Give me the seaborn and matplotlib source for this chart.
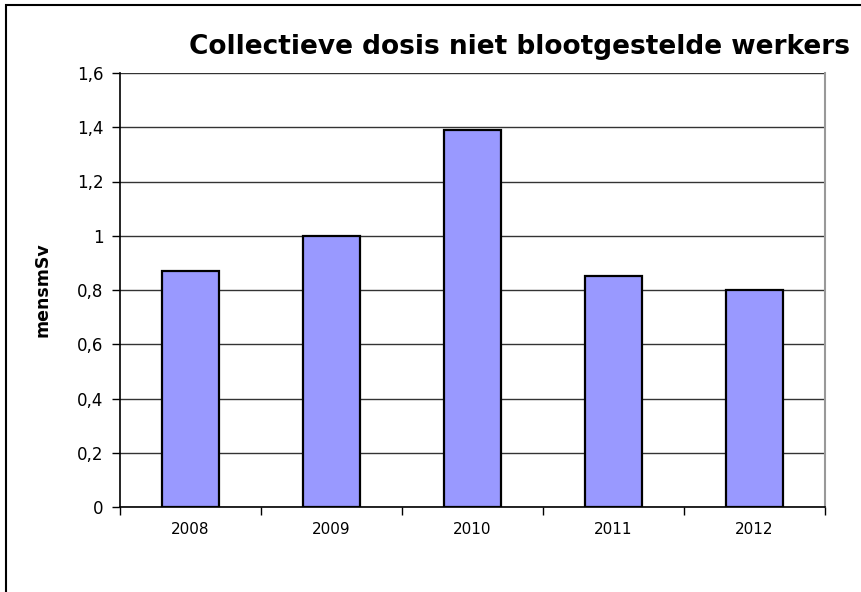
import matplotlib
matplotlib.use("Agg")
import matplotlib.pyplot as plt
import matplotlib.patches as mpatches
import seaborn as sns
import pandas as pd
from matplotlib.ticker import FuncFormatter

years = ["2008", "2009", "2010", "2011", "2012"]
dose = [0.87, 1.0, 1.39, 0.85, 0.80]
yticks = [0, 0.2, 0.4, 0.6, 0.8, 1.0, 1.2, 1.4, 1.6]

df = pd.DataFrame({"jaar": years, "dosis": dose})

sns.set_theme(style="white")
plt.rcParams["font.family"] = ["DejaVu Sans"]
plt.rcParams["text.color"] = "black"
plt.rcParams["axes.labelcolor"] = "black"
plt.rcParams["xtick.color"] = "black"
plt.rcParams["ytick.color"] = "black"

fig = plt.figure(figsize=(8.62, 5.92), dpi=100)
ax = fig.add_axes([120 / 862, 1 - 507 / 592, 705 / 862, (507 - 73) / 592])

ax.set_ylim(0, 1.6)
ax.set_yticks(yticks)
ax.yaxis.grid(True, color="#333333", linewidth=1.0)
ax.set_axisbelow(True)

sns.barplot(data=df, x="jaar", y="dosis", color="#9999FF", saturation=1,
            width=0.4, edgecolor="black", linewidth=1.6, ax=ax)

ax.set_xlim(-0.5, len(years) - 0.5)
ax.yaxis.set_major_formatter(
    FuncFormatter(lambda v, p: ("%g" % round(v, 1)).replace(".", ",")))

# x ticks sit on the category boundaries
ax.set_xticks([i - 0.5 for i in range(len(years) + 1)], minor=True)
ax.tick_params(axis="x", which="major", length=0, pad=11, labelsize=11)
ax.tick_params(axis="x", which="minor", length=6, width=1, color="black",
               direction="out", bottom=True)
ax.tick_params(axis="y", which="major", length=6, width=1, color="black",
               direction="out", left=True, labelsize=12, pad=6)

for side in ["left", "bottom"]:
    ax.spines[side].set_color("black")
    ax.spines[side].set_linewidth(1.2)
ax.spines["top"].set_visible(False)
ax.spines["right"].set_color("#999999")
ax.spines["right"].set_linewidth(1.5)

ax.set_xlabel("")
ax.set_ylabel("mensmSv", fontsize=12.5, fontweight="bold", labelpad=18)

fig.text(850 / 862, 1 - 47 / 592,
         "Collectieve dosis niet blootgestelde werkers",
         ha="right", va="center", fontsize=19, fontweight="bold")

# outer chart frame (left and top edges visible)
frame = mpatches.Rectangle((6 / 862, -0.5), 2.0, 1.5 - 5 / 592,
                           transform=fig.transFigure, fill=False,
                           edgecolor="black", linewidth=1.5)
fig.patches.append(frame)

fig.savefig("out.png", dpi=100)
